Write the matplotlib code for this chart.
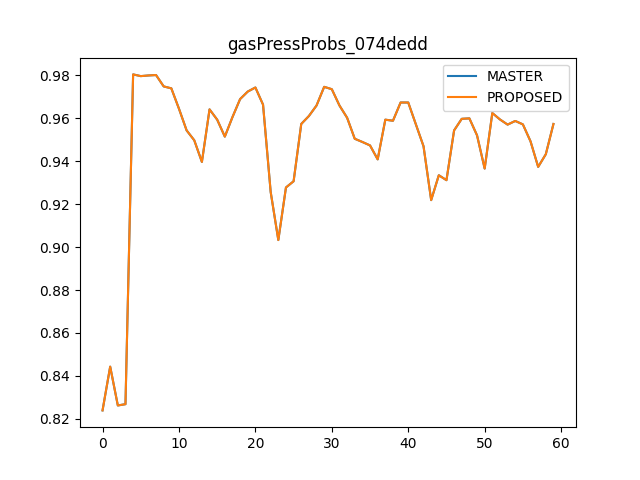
import matplotlib
matplotlib.use('Agg')
import matplotlib.pyplot as plt

# values; both series overlap exactly
master = [0.8239, 0.8443, 0.8262, 0.8268, 0.9805, 0.9797, 0.9800, 0.9802, 0.9749, 0.9740,
          0.9645, 0.9544, 0.9498, 0.9397, 0.9642, 0.9594, 0.9515, 0.9606, 0.9690, 0.9725,
          0.9744, 0.9664, 0.9257, 0.9033, 0.9278, 0.9307, 0.9574, 0.9611, 0.9660, 0.9747,
          0.9736, 0.9660, 0.9603, 0.9505, 0.9490, 0.9474, 0.9409, 0.9594, 0.9589, 0.9674,
          0.9674, 0.9572, 0.9470, 0.9219, 0.9335, 0.9312, 0.9544, 0.9598, 0.9600, 0.9521,
          0.9366, 0.9625, 0.9595, 0.9571, 0.9588, 0.9572, 0.9493, 0.9374, 0.9433, 0.9574]
proposed = list(master)

fig, ax = plt.subplots(figsize=(6.4, 4.8), dpi=100)
ax.plot(master, label='MASTER')
ax.plot(proposed, label='PROPOSED')
ax.set_title('gasPressProbs_074dedd')
ax.legend(loc='upper right')
fig.savefig('out.png')
